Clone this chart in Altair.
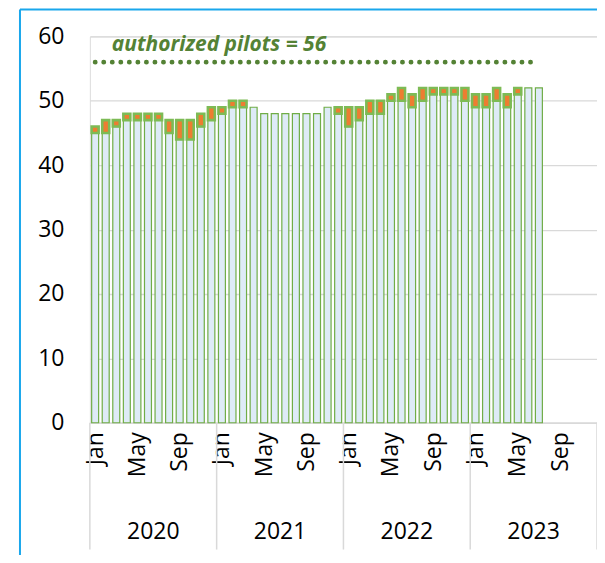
import altair as alt
import pandas as pd

# ---- data -------------------------------------------------------------
years = [2020, 2021, 2022, 2023]
month_names = ["Jan", "Feb", "Mar", "Apr", "May", "Jun",
               "Jul", "Aug", "Sep", "Oct", "Nov", "Dec"]
tick_months = ["Jan", "May", "Sep"]

# monthly pilot count: low value of month and high value of month (Jan 2020 - Jul 2023)
low = [45, 45, 46, 47, 47, 47, 47, 45, 44, 44, 46, 47,
       48, 49, 49, 49, 48, 48, 48, 48, 48, 48, 49, 48,
       46, 47, 48, 48, 50, 50, 49, 50, 51, 51, 51, 50,
       49, 49, 50, 49, 51, 52, 52]
high = [46, 47, 47, 48, 48, 48, 48, 47, 47, 47, 48, 49,
        49, 50, 50, 49, 48, 48, 48, 48, 48, 48, 49, 49,
        49, 49, 50, 50, 51, 52, 51, 52, 52, 52, 52, 52,
        51, 51, 52, 51, 52, 52, 52]
authorized = 56
annotation = "authorized pilots = 56"

n_slots = 12 * len(years)
labels = [f"{month_names[i % 12]} {years[0] + i // 12}" for i in range(len(low))]

df = pd.DataFrame({"idx": list(range(len(low))), "label": labels,
                   "low": low, "high": high})
auth_df = pd.DataFrame({"start": [0], "end": [len(low) - 1], "value": [authorized]})
year_df = pd.DataFrame({"year": years, "k": list(range(len(years)))})
div_df = pd.DataFrame({"k": list(range(len(years) + 1))})
one = pd.DataFrame({"a": [0]})

W, H = 508, 387
FONT = "Open Sans"
GREEN = "#70AD47"

xscale = alt.Scale(domain=[0, n_slots], nice=False, zero=False)
yscale = alt.Scale(domain=[0, 60], nice=False)

tick_vals = [i + 0.5 for i in range(0, n_slots, 4)]
label_expr = "['" + "','".join(tick_months) + "'][floor(datum.value / 4) % 3]"

xaxis = alt.Axis(values=tick_vals, labelExpr=label_expr, labelAngle=270,
                 labelAlign="right", labelBaseline="middle",
                 labelFontSize=23, labelFont=FONT, labelColor="#000000",
                 labelPadding=9, labelOverlap=False, labelFlush=False,
                 ticks=False, grid=False, domainColor="#D9D9D9",
                 domainWidth=1.5, title=None)
yaxis = alt.Axis(values=[0, 10, 20, 30, 40, 50, 60], labelFontSize=23,
                 labelFont=FONT, labelColor="#000000", labelPadding=26,
                 ticks=False, domain=False, gridColor="#D9D9D9",
                 gridWidth=1.3, title=None, labelFlush=False)

base = alt.Chart(df).transform_calculate(
    x0="datum.idx + 0.17", x1="datum.idx + 0.83")

blue = base.mark_rect(fill="#DEEBF7", stroke=GREEN, strokeWidth=1.2).encode(
    x=alt.X("x0:Q", scale=xscale, axis=xaxis),
    x2="x1:Q",
    y=alt.Y("low:Q", scale=yscale, axis=yaxis),
    y2=alt.datum(0),
)

orange = base.transform_filter("datum.high > datum.low").mark_rect(
    fill="#ED7D31", stroke="#7DBB55", strokeWidth=2.6).encode(
    x=alt.X("x0:Q", scale=xscale),
    x2="x1:Q",
    y=alt.Y("low:Q", scale=yscale),
    y2="high:Q",
)

dots = alt.Chart(auth_df).transform_calculate(
    xs="datum.start + 0.5", xe="datum.end + 0.5").mark_rule(
    color="#548235", strokeWidth=4.8, strokeCap="round",
    strokeDash=[0.1, 8.45]).encode(
    x=alt.X("xs:Q", scale=xscale), x2="xe:Q",
    y=alt.Y("value:Q", scale=yscale),
)

note = alt.Chart(one).mark_text(
    text=annotation, font=FONT, fontSize=21, fontStyle="italic",
    fontWeight="bold", color="#548235", align="left", baseline="middle",
).encode(x=alt.value(22), y=alt.value(9))

year_text = alt.Chart(year_df).transform_calculate(
    xm="datum.k * 12 + 6").mark_text(
    font=FONT, fontSize=23, color="#000000", baseline="middle",
    align="center").encode(
    x=alt.X("xm:Q", scale=xscale), y=alt.value(H + 109),
    text="year:N",
)

dividers = alt.Chart(div_df).transform_calculate(
    xd="datum.k * 12").mark_rule(color="#D9D9D9", strokeWidth=1.5).encode(
    x=alt.X("xd:Q", scale=xscale), y=alt.value(H), y2=alt.value(H + 127),
)

border_top = alt.Chart(one).mark_rule(color="#1AA7EC", strokeWidth=2).encode(
    x=alt.value(-70), x2=alt.value(540), y=alt.value(-27))
border_left = alt.Chart(one).mark_rule(color="#1AA7EC", strokeWidth=2).encode(
    x=alt.value(-70), y=alt.value(-27), y2=alt.value(540))

chart = alt.layer(
    dividers, blue, orange, dots, note, year_text, border_top, border_left
).properties(
    width=W, height=H,
    autosize=alt.AutoSizeParams(type="none"),
    padding={"left": 82, "top": 28, "right": 0, "bottom": 132},
).configure_view(stroke=None).configure(background="#FFFFFF")

chart.save("out.html", embed_options={"renderer": "svg", "actions": False})
